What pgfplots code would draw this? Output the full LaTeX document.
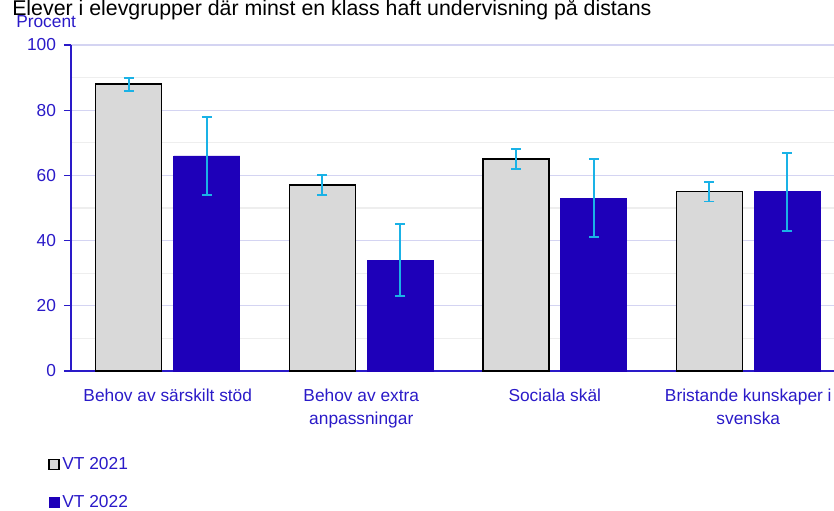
\documentclass[border=0pt]{standalone}
\usepackage{pgfplots}
\pgfplotsset{compat=1.18}
\usepackage{fontspec}
\setmainfont{Liberation Sans}
\definecolor{txtblue}{HTML}{2A1AC8}
\definecolor{barblue}{HTML}{1E00B9}
\definecolor{bargray}{HTML}{D9D9D9}
\definecolor{errcyan}{HTML}{1AB2E6}
\definecolor{majgrid}{HTML}{D4D4F2}
\definecolor{mingrid}{HTML}{EEEEEE}
\begin{document}
\begin{tikzpicture}
\useasboundingbox (0,0) rectangle (625.5pt,-382.5pt);
\node[anchor=base west, font=\fontsize{16}{18}\selectfont, inner sep=0] at (9pt,-11.6pt) {Elever i elevgrupper där minst en klass haft undervisning på distans};
\node[anchor=base west, font=\fontsize{13}{15}\selectfont, text=txtblue, inner sep=0] at (12pt,-20.5pt) {Procent};
\begin{axis}[
  at={(53.25pt,-278.25pt)}, anchor=south west,
  scale only axis, width=572.25pt, height=244.5pt,
  ybar=9pt, bar width=49.5pt,
  xmin=-0.5, xmax=3.443, ymin=0, ymax=100,
  xtick={0,1,2,3},
  xticklabels={Behov av särskilt stöd, {Behov av extra\\anpassningar}, Sociala skäl, {Bristande kunskaper i\\svenska}},
  ytick={0,20,40,60,80,100},
  minor y tick num=1,
  axis lines=left,
  axis line style={-, txtblue, line width=1.1pt},
  ymajorgrids, yminorgrids,
  major grid style={majgrid, line width=1pt},
  minor grid style={mingrid, line width=1pt},
  xtick style={draw=none},
  ytick style={txtblue, line width=1pt},
  major tick length=5.25pt, minor tick length=0pt,
  tick align=outside,
  /pgf/number format/assume math mode=true,
  yticklabel style={font=\fontsize{13}{15}\selectfont, text=txtblue, xshift=-2.5pt},
  xticklabel style={font=\fontsize{13}{17.25}\selectfont, text=txtblue, align=center, yshift=-5pt},
  legend style={at={(axis description cs:-0.0354,-0.248)}, anchor=north west, draw=none, fill=none,
    font=\fontsize{13}{15}\selectfont, text=txtblue, row sep=13.75pt, legend cell align=left},
]
\addplot[fill=bargray, draw=black, line width=1.1pt,
  legend image code/.code={\filldraw[fill=bargray, draw=black, line width=1pt] (0pt,-3.6pt) rectangle (7.6pt,4pt);},
  error bars/.cd, y dir=both, y explicit,
  error bar style={draw=errcyan, line width=1.4pt},
  error mark options={draw=errcyan, rotate=90, mark size=3.75pt, line width=1.4pt}]
  coordinates {(0,88) +- (0,2) (1,57) +- (0,3) (2,65) +- (0,3) (3,55) +- (0,3)};
\addlegendentry{VT 2021}
\addplot[fill=barblue, draw=barblue, line width=0.5pt,
  legend image code/.code={\fill[barblue] (0pt,-3.6pt) rectangle (7.6pt,4pt);},
  error bars/.cd, y dir=both, y explicit,
  error bar style={draw=errcyan, line width=1.4pt},
  error mark options={draw=errcyan, rotate=90, mark size=3.75pt, line width=1.4pt}]
  coordinates {(0,66) +- (0,12) (1,34) +- (0,11) (2,53) +- (0,12) (3,55) +- (0,12)};
\addlegendentry{VT 2022}
\end{axis}
\end{tikzpicture}
\end{document}
